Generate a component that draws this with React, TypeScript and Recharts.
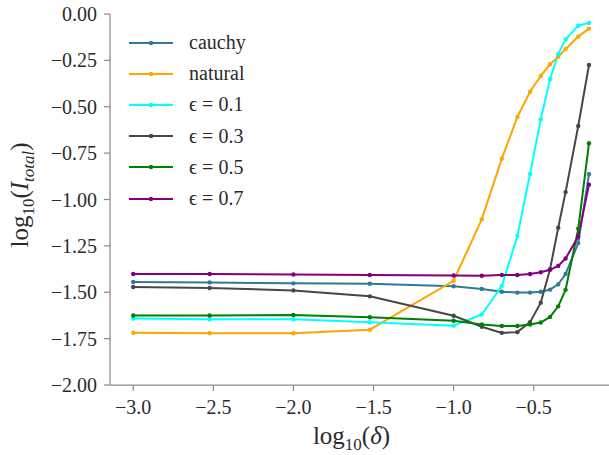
import { LineChart, Line, XAxis, YAxis, Label } from 'recharts'

// log10(delta) for delta = 0.001, 0.003, 0.01, 0.03, 0.1, 0.15 ... 0.7
const LOG_DELTA = [-3, -2.523, -2, -1.523, -1, -0.824, -0.699, -0.602, -0.523, -0.456, -0.398, -0.347, -0.301, -0.222, -0.155]

const CAUCHY  = [-1.445, -1.447, -1.452, -1.454, -1.468, -1.482, -1.497, -1.502, -1.502, -1.497, -1.486, -1.457, -1.402, -1.235, -0.863]
const NATURAL = [-1.718, -1.721, -1.721, -1.702, -1.438, -1.106, -0.780, -0.555, -0.419, -0.334, -0.271, -0.230, -0.189, -0.122, -0.079]
const EPS_01  = [-1.642, -1.646, -1.646, -1.662, -1.680, -1.620, -1.466, -1.197, -0.862, -0.568, -0.352, -0.216, -0.137, -0.063, -0.048]
const EPS_03  = [-1.472, -1.477, -1.490, -1.522, -1.627, -1.686, -1.719, -1.715, -1.661, -1.556, -1.376, -1.152, -0.960, -0.604, -0.275]
const EPS_05  = [-1.625, -1.625, -1.623, -1.635, -1.654, -1.674, -1.682, -1.682, -1.674, -1.663, -1.633, -1.576, -1.487, -1.157, -0.697]
const EPS_07  = [-1.402, -1.402, -1.404, -1.407, -1.410, -1.411, -1.407, -1.407, -1.402, -1.392, -1.379, -1.358, -1.318, -1.200, -0.920]

const X_TICKS = [-3, -2.5, -2, -1.5, -1, -0.5]
const Y_TICKS = [-2, -1.75, -1.5, -1.25, -1, -0.75, -0.5, -0.25, 0]

const SERIES = [
  { key: 'cauchy',  name: 'cauchy',  values: CAUCHY,  color: '#2f7a94' },
  { key: 'natural', name: 'natural', values: NATURAL, color: '#ffa500' },
  { key: 'eps01',   name: 'ϵ = 0.1', values: EPS_01,  color: '#00ffff' },
  { key: 'eps03',   name: 'ϵ = 0.3', values: EPS_03,  color: '#474747' },
  { key: 'eps05',   name: 'ϵ = 0.5', values: EPS_05,  color: '#008000' },
  { key: 'eps07',   name: 'ϵ = 0.7', values: EPS_07,  color: '#800080' },
]

const data = LOG_DELTA.map((x, i) => {
  const row: Record<string, number> = { x }
  SERIES.forEach(s => { row[s.key] = s.values[i] })
  return row
})

const FONT = '"Liberation Serif", "Times New Roman", serif'
const SPINE = '#8c8c8c'
const TEXT = '#2b2b2b'

const minus = (s: string) => s.replace('-', '\u2212')

// explicit tick renderers so the serif font is on the <text> itself
function XTick({ x, y, payload }: any) {
  return (
    <text x={x} y={y} dy={15} textAnchor="middle" fontFamily={FONT} fontSize={20} fill={TEXT}>
      {minus(Number(payload.value).toFixed(1))}
    </text>
  )
}

function YTick({ x, y, payload }: any) {
  return (
    <text x={x} y={y} dy={7} textAnchor="end" fontFamily={FONT} fontSize={20} fill={TEXT}>
      {minus(Number(payload.value).toFixed(2))}
    </text>
  )
}

function LegendBox() {
  return (
    <div style={{ position: 'absolute', left: 129, top: 27, fontFamily: FONT, fontSize: 20, color: TEXT }}>
      {SERIES.map(s => (
        <div key={s.key} style={{ display: 'flex', alignItems: 'center', height: 31.2, whiteSpace: 'nowrap' }}>
          <svg width={44} height={10} style={{ marginRight: 16 }}>
            <line x1={0} y1={5} x2={44} y2={5} stroke={s.color} strokeWidth={2} />
            <circle cx={22} cy={5} r={2.2} fill={s.color} />
          </svg>
          <span>{s.name}</span>
        </div>
      ))}
    </div>
  )
}

export default function App() {
  return (
    <div style={{ position: 'absolute', left: 0, top: 0, width: 609, height: 455, background: 'white', fontFamily: FONT }}>
      <LineChart width={609} height={455} data={data} margin={{ top: 14, right: 0, left: 0, bottom: 0 }}>
        <XAxis
          type="number" dataKey="x" domain={[-3.145, -0.03]} ticks={X_TICKS} allowDataOverflow
          height={70} tickSize={6} tickMargin={8}
          stroke={SPINE} strokeWidth={1.25}
          tick={<XTick />}
        >
          <Label
            content={(props: any) => {
              const vb = props.viewBox || { x: 110, y: 385, width: 499 }
              const cx = vb.x + vb.width / 2
              return (
                <text x={cx - 8} y={444} textAnchor="middle" fontFamily={FONT} fontSize={25} fill={TEXT}>
                  <tspan>log</tspan>
                  <tspan dy={6} fontSize={17}>10</tspan>
                  <tspan dy={-6}>(</tspan>
                  <tspan fontStyle="italic">δ</tspan>
                  <tspan>)</tspan>
                </text>
              )
            }}
          />
        </XAxis>
        <YAxis
          type="number" domain={[-2, 0]} ticks={Y_TICKS} width={110}
          tickSize={6} tickMargin={7}
          stroke={SPINE} strokeWidth={1.25}
          tick={<YTick />}
        >
          <Label
            content={() => {
              const cx = 28
              const cy = 195
              return (
                <text x={cx} y={cy} textAnchor="middle" fontFamily={FONT} fontSize={25} fill={TEXT}
                  transform={`rotate(-90, ${cx}, ${cy})`}>
                  <tspan>log</tspan>
                  <tspan dy={6} fontSize={17}>10</tspan>
                  <tspan dy={-6}>(</tspan>
                  <tspan fontStyle="italic">I</tspan>
                  <tspan dy={6} fontSize={17} fontStyle="italic">total</tspan>
                  <tspan dy={-6}>)</tspan>
                </text>
              )
            }}
          />
        </YAxis>
        {SERIES.map(s => (
          <Line
            key={s.key} dataKey={s.key} name={s.name} type="linear"
            stroke={s.color} strokeWidth={2}
            dot={{ r: 2.2, fill: s.color, stroke: s.color, strokeWidth: 0 }}
            activeDot={false} isAnimationActive={false}
          />
        ))}
      </LineChart>
      <LegendBox />
    </div>
  )
}
